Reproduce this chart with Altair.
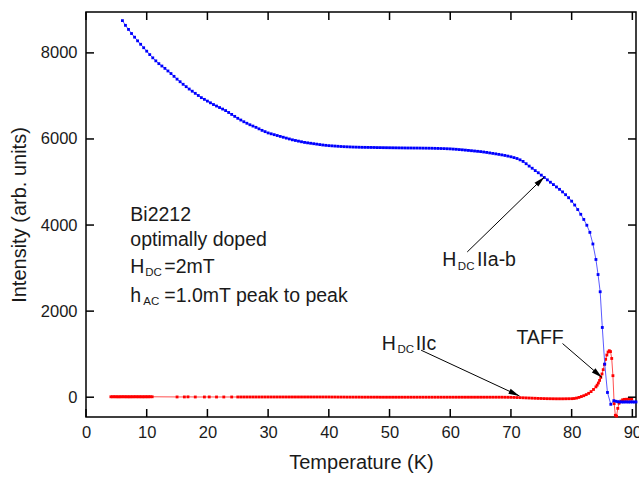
import math

import altair as alt
import pandas as pd

# ---- measured series: H_DC parallel to the a-b plane (blue) ----
blue_temp = [
    6.0, 6.5, 7.0, 7.5, 8.0, 8.5, 9.0, 9.5, 10.0, 10.5, 11.0, 11.5, 12.0, 12.5,
    13.0, 13.5, 14.0, 14.5, 15.0, 15.5, 16.0, 16.5, 17.0, 17.5, 18.0, 18.5,
    19.0, 19.5, 20.0, 20.5, 21.0, 21.5, 22.0, 22.5, 23.0, 23.5, 24.0, 24.5,
    25.0, 25.5, 26.0, 26.5, 27.0, 27.5, 28.0, 28.5, 29.0, 29.5, 30.0, 30.5,
    31.0, 31.5, 32.0, 32.5, 33.0, 33.5, 34.0, 34.5, 35.0, 35.5, 36.0, 36.5,
    37.0, 37.5, 38.0, 38.5, 39.0, 39.5, 40.0, 40.5, 41.0, 41.5, 42.0, 42.5,
    43.0, 43.5, 44.0, 44.5, 45.0, 45.5, 46.0, 46.5, 47.0, 47.5, 48.0, 48.5,
    49.0, 49.5, 50.0, 50.5, 51.0, 51.5, 52.0, 52.5, 53.0, 53.5, 54.0, 54.5,
    55.0, 55.5, 56.0, 56.5, 57.0, 57.5, 58.0, 58.5, 59.0, 59.5, 60.0, 60.5,
    61.0, 61.5, 62.0, 62.5, 63.0, 63.5, 64.0, 64.5, 65.0, 65.5, 66.0, 66.5,
    67.0, 67.5, 68.0, 68.5, 69.0, 69.5, 70.0, 70.5, 71.0, 71.5, 72.0, 72.5,
    73.0, 73.5, 74.0, 74.5, 75.0, 75.5, 76.0, 76.5, 77.0, 77.5, 78.0, 78.5,
    79.0, 79.5, 80.0, 80.5, 81.0, 81.5, 82.0, 82.5, 83.0, 83.5, 84.0,
    84.35, 84.7, 85.05, 85.45, 85.9, 86.45, 86.95, 87.3, 87.6, 87.9, 88.2,
    88.5, 88.8, 89.1, 89.4, 89.7, 90.0, 90.3, 90.6,
]
blue_int = [
    8750, 8640, 8545, 8450, 8365, 8280, 8200, 8120, 8040, 7960, 7885, 7815,
    7750, 7695, 7640, 7580, 7520, 7455, 7390, 7330, 7270, 7215, 7160, 7110,
    7060, 7010, 6960, 6920, 6880, 6840, 6800, 6765, 6730, 6695, 6660, 6615,
    6570, 6525, 6480, 6440, 6400, 6365, 6330, 6300, 6270, 6235, 6200, 6170,
    6140, 6120, 6100, 6080, 6060, 6040, 6020, 6000, 5980, 5965, 5950, 5935,
    5920, 5910, 5900, 5890, 5880, 5870, 5860, 5852, 5845, 5840, 5835, 5830,
    5825, 5821, 5818, 5815, 5812, 5810, 5808, 5806, 5805, 5804, 5803, 5802,
    5800, 5799, 5798, 5797, 5796, 5795, 5794, 5793, 5792, 5791, 5790, 5790,
    5789, 5789, 5788, 5787, 5786, 5785, 5784, 5782, 5780, 5778, 5776, 5773,
    5770, 5765, 5760, 5754, 5748, 5741, 5734, 5727, 5720, 5713, 5706, 5697,
    5687, 5676, 5665, 5654, 5642, 5630, 5617, 5602, 5586, 5567, 5546, 5515,
    5478, 5425, 5370, 5320, 5265, 5215, 5160, 5105, 5050, 4995, 4940, 4885,
    4830, 4770, 4705, 4635, 4555, 4465, 4360, 4250, 4130, 3995, 3830, 3560,
    3200,
    2850, 2450, 1620, 770, 110, -165, -80, -95, -105, -110, -110,
    -112, -110, -110, -112, -110, -110, -112, -110,
]

# ---- measured series: H_DC parallel to c (red) ----
red_temp = [
    4.1, 4.35, 4.6, 4.85, 5.1, 5.35, 5.6, 5.85, 6.1, 6.35, 6.6, 6.85, 7.1,
    7.35, 7.6, 7.85, 8.1, 8.35, 8.6, 8.85, 9.1, 9.35, 9.6, 9.85, 10.1, 10.35,
    10.6, 10.9,
    15.0, 16.2, 16.8, 18.0, 19.5, 20.3, 21.5, 22.7, 24.0, 25.0,
    25.5, 26.0, 26.5, 27.0, 27.5, 28.0, 28.5, 29.0, 29.5, 30.0, 30.5, 31.0,
    31.5, 32.0, 32.5, 33.0, 33.5, 34.0, 34.5, 35.0, 35.5, 36.0, 36.5, 37.0,
    37.5, 38.0, 38.5, 39.0, 39.5, 40.0, 40.5, 41.0, 41.5, 42.0, 42.5, 43.0,
    43.5, 44.0, 44.5, 45.0, 45.5, 46.0, 46.5, 47.0, 47.5, 48.0, 48.5, 49.0,
    49.5, 50.0, 50.5, 51.0, 51.5, 52.0, 52.5, 53.0, 53.5, 54.0, 54.5, 55.0,
    55.5, 56.0, 56.5, 57.0, 57.5, 58.0, 58.5, 59.0, 59.5, 60.0, 60.5, 61.0,
    61.5, 62.0, 62.5, 63.0, 63.5, 64.0, 64.5, 65.0, 65.5, 66.0, 66.5, 67.0,
    67.5, 68.0, 68.5, 69.0, 69.5, 70.0, 70.5, 71.0, 71.5, 72.0, 72.5, 73.0,
    73.5, 74.0, 74.5, 75.0, 75.5, 76.0, 76.5, 77.0, 77.5, 78.0, 78.5, 79.0,
    79.5,
    80.0, 80.4, 80.8, 81.2, 81.6, 82.0, 82.4, 82.8, 83.2, 83.6, 84.0, 84.2,
    84.4, 84.6, 84.8, 85.0, 85.2, 85.4, 85.6, 85.8, 86.0, 86.2, 86.4, 86.6,
    86.8, 87.0, 87.2, 87.4, 87.6, 87.8, 88.1, 88.4, 88.7, 89.0, 89.3, 89.6,
    89.9,
]
red_int = [
    # 4.1 - 10.9 K
    10, 10, 11, 10, 10, 9, 10, 10, 11, 10, 10, 10, 9, 10, 10, 10, 11, 10,
    10, 10, 10, 9, 10, 10, 10, 10, 11, 10,
    # 15.0 - 25.0 K
    6, 6, 8, 5, 5, 6, 5, 5, 5, 5,
    # 25.5 - 36.0 K
    5, 5, 5, 5, 5, 5, 5, 5, 5, 5, 5, 5, 5, 5, 5, 5, 5, 5, 5, 5, 5, 5,
    # 36.5 - 46.0 K
    5, 5, 5, 5, 5, 5, 5, 5, 4, 4, 3, 3, 3, 2, 2, 2, 2, 2, 1, 1,
    # 46.5 - 56.0 K
    1, 1, 1, 1, 0, 0, 0, 0, 0, 0, 0, 0, 0, 0, 0, 0, 0, 0, 0, 0,
    # 56.5 - 69.5 K
    0, 0, 0, 0, 0, 0, 0, 0, 0, 0, 0, 0, 0, 0, 0, 0, 0, 0, 0, 0, 0, 0, 0,
    0, 0, -1, -2,
    # 70.0 - 79.5 K
    -3, -5, -8, -10, -13, -16, -19, -22, -25, -28, -30, -32, -34, -35,
    -36, -37, -37, -37, -36, -35,
    # 80.0 - 89.9 K
    -34, -30, -20, -5, 15, 35, 60, 90, 130, 180, 240, 280,
    330, 390, 460, 540, 640, 760, 880, 980, 1050, 1080, 1060, 900,
    500, -150, -420, -440, -260, -140, -90, -60, -50, -48, -46, -45,
    -45,
]

# ---- axes ----
x_ticks = [0, 10, 20, 30, 40, 50, 60, 70, 80, 90]
y_ticks = [0, 2000, 4000, 6000, 8000]

# ---- annotations ----
label_text = ["Bi2212", "optimally doped", "H", "=2mT", "h", "=1.0mT peak to peak",
              "H", "IIa-b", "H", "IIc", "TAFF"]
label_temp = [7.3, 7.3, 7.3, 12.9, 7.3, 12.9, 58.7, 64.4, 48.7, 54.3, 70.9]
label_int = [4228, 3647, 3027, 3027, 2353, 2353, 3183, 3183, 1247, 1247, 1364]

sub_text = ["DC", "AC", "DC", "DC"]
sub_temp = [9.77, 9.45, 61.25, 51.3]
sub_int = [2876, 2202, 3032, 1096]

arrow_tail_temp = [62.8, 55.2, 78.5]
arrow_tail_int = [3375, 1092, 1247]
arrow_tip_temp = [75.5, 71.4, 85.0]
arrow_tip_int = [5118, 30, 458]

X_DOMAIN = [0, 90.6]
Y_DOMAIN = [-460, 8950]
W, H = 550, 405
FONT = "Liberation Sans"
INK = "#1a1a1a"
TICK_LEN = 8

xs = alt.Scale(domain=X_DOMAIN, nice=False, zero=False)
ys = alt.Scale(domain=Y_DOMAIN, nice=False, zero=False)

x_axis = alt.Axis(
    values=x_ticks, format="d", title="Temperature (K)", grid=False,
    domain=False, ticks=False, tickSize=0, labelFlush=False,
    labelFontSize=16.5, labelFont=FONT, labelColor=INK, labelPadding=7,
    titleFont=FONT, titleFontSize=20, titleFontWeight="normal",
    titleColor=INK, titlePadding=12,
)
y_axis = alt.Axis(
    values=y_ticks, format="d", title="Intensity (arb. units)", grid=False,
    domain=False, ticks=False, tickSize=0, labelFontSize=16.5,
    labelFont=FONT, labelColor=INK, labelPadding=9, titleFont=FONT,
    titleFontSize=20, titleFontWeight="normal", titleColor=INK,
    titlePadding=11,
)


def xq(field):
    return alt.X(field, type="quantitative", scale=xs, axis=x_axis)


def yq(field):
    return alt.Y(field, type="quantitative", scale=ys, axis=y_axis)


blue = pd.DataFrame({"T": blue_temp, "I": blue_int})
red = pd.DataFrame({"T": red_temp, "I": red_int})

red_line = alt.Chart(red).mark_line(color="#ff5050", strokeWidth=1).encode(
    x=xq("T"), y=yq("I"), order="T:Q"
)
red_pts = alt.Chart(red).mark_point(
    shape="square", filled=True, size=8, color="#ff0000", opacity=1
).encode(x=xq("T"), y=yq("I"))

blue_line = alt.Chart(blue).mark_line(color="#5a5aff", strokeWidth=1).encode(
    x=xq("T"), y=yq("I"), order="T:Q"
)
blue_pts = alt.Chart(blue).mark_point(
    shape="square", filled=True, size=8, color="#0000ff", opacity=1
).encode(x=xq("T"), y=yq("I"))

# inward ticks on all four sides of the frame
xt = pd.DataFrame({"T": x_ticks})
yt = pd.DataFrame({"I": y_ticks})
tick_style = dict(color="black", strokeWidth=1.5)
ticks_bottom = alt.Chart(xt).mark_rule(**tick_style).encode(
    x=xq("T"), y=alt.value(H), y2=alt.value(H - TICK_LEN))
ticks_top = alt.Chart(xt).mark_rule(**tick_style).encode(
    x=xq("T"), y=alt.value(0), y2=alt.value(TICK_LEN))
ticks_left = alt.Chart(yt).mark_rule(**tick_style).encode(
    y=yq("I"), x=alt.value(0), x2=alt.value(TICK_LEN))
ticks_right = alt.Chart(yt).mark_rule(**tick_style).encode(
    y=yq("I"), x=alt.value(W), x2=alt.value(W - TICK_LEN))

# arrows: shaft plus a rotated triangular head at the tip
kx = W / (X_DOMAIN[1] - X_DOMAIN[0])
ky = H / (Y_DOMAIN[1] - Y_DOMAIN[0])
angles = [
    math.degrees(math.atan2((t1 - t0) * kx, (i1 - i0) * ky)) % 360
    for t0, i0, t1, i1 in zip(arrow_tail_temp, arrow_tail_int,
                              arrow_tip_temp, arrow_tip_int)
]
arrows = pd.DataFrame({
    "T0": arrow_tail_temp, "I0": arrow_tail_int,
    "T1": arrow_tip_temp, "I1": arrow_tip_int, "angle": angles,
})
shafts = alt.Chart(arrows).mark_rule(color="black", strokeWidth=1).encode(
    x=xq("T0"), y=yq("I0"), x2="T1:Q", y2="I1:Q")
heads = alt.Chart(arrows).mark_point(
    shape="M0,0L0.5,2L-0.5,2Z", filled=True, color="black", size=121,
    opacity=1, strokeWidth=0,
).encode(x=xq("T1"), y=yq("I1"), angle=alt.Angle("angle:Q", scale=None))

labels = pd.DataFrame({"T": label_temp, "I": label_int, "text": label_text})
subs = pd.DataFrame({"T": sub_temp, "I": sub_int, "text": sub_text})
label_marks = alt.Chart(labels).mark_text(
    align="left", baseline="middle", font=FONT, fontSize=19.5, color=INK
).encode(x=xq("T"), y=yq("I"), text="text:N")
sub_marks = alt.Chart(subs).mark_text(
    align="left", baseline="middle", font=FONT, fontSize=11.5, color=INK
).encode(x=xq("T"), y=yq("I"), text="text:N")

chart = alt.layer(
    red_line, red_pts, blue_line, blue_pts,
    ticks_bottom, ticks_top, ticks_left, ticks_right,
    shafts, heads, label_marks, sub_marks,
).properties(
    width=W,
    height=H,
    autosize=alt.AutoSizeParams(type="none"),
    padding={"left": 86, "top": 12, "right": 3, "bottom": 63},
    background="white",
).configure_view(
    stroke="black", strokeWidth=1.5
)

chart.save("out.html", embed_options={"renderer": "svg", "actions": False})
